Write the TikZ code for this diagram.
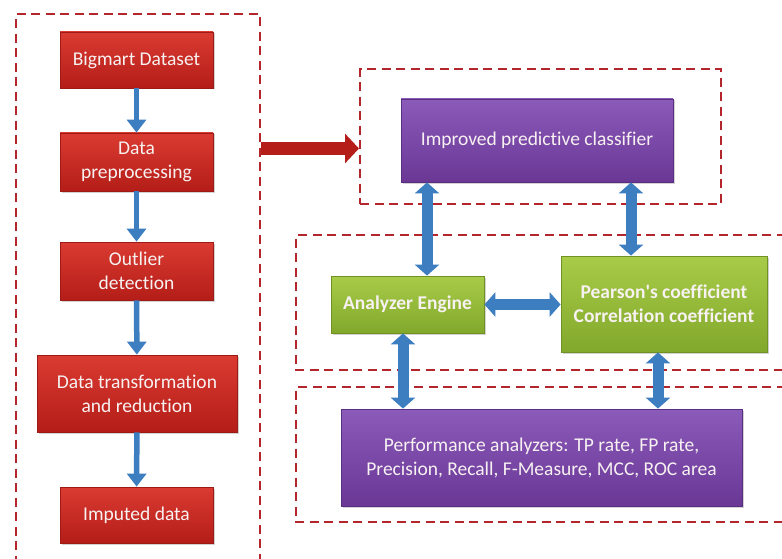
\documentclass[tikz,border=0pt]{standalone}
\usepackage{fontspec}
\setmainfont[Ligatures={NoCommon}]{Carlito}
\usetikzlibrary{arrows.meta,shadows,calc}
\definecolor{redA}{HTML}{DA3B31}
\definecolor{redB}{HTML}{B41D18}
\definecolor{redE}{HTML}{9E1A16}
\definecolor{purA}{HTML}{8B5BBA}
\definecolor{purB}{HTML}{6A3795}
\definecolor{purE}{HTML}{5C2E83}
\definecolor{grnA}{HTML}{A8CC48}
\definecolor{grnB}{HTML}{82A82C}
\definecolor{grnE}{HTML}{6F9222}
\definecolor{arrblue}{HTML}{3D7EC1}
\definecolor{dashred}{HTML}{B3262B}
\definecolor{txtw}{HTML}{F7F1F1}
\tikzset{
  box/.style={rectangle, draw, line width=0.8pt, align=center, text=txtw,
    font=\fontsize{19.5}{24}\selectfont, inner sep=2pt,
    drop shadow={opacity=0.35, shadow xshift=1.5pt, shadow yshift=-1.5pt}},
  redbox/.style={box, draw=redE, top color=redA, bottom color=redB},
  purbox/.style={box, draw=purE, top color=purA, bottom color=purB},
  grnbox/.style={box, draw=grnE, top color=grnA, bottom color=grnB, font=\fontsize{19.5}{24}\selectfont\bfseries},
  grpbox/.style={draw=dashred, line width=2.4pt, dash pattern=on 9pt off 5.5pt},
  downarrow/.style={draw=arrblue, line width=5.5pt, -{Triangle[width=19pt,length=13pt]}},
  dblarrow/.style={draw=arrblue, line width=11pt, {Triangle[width=24pt,length=11pt]}-{Triangle[width=24pt,length=11pt]}},
  bigarrow/.style={draw=redB, line width=13pt, -{Triangle[width=29pt,length=14pt]}},
}
\begin{document}
\begin{tikzpicture}[x=1pt,y=-1pt]
\useasboundingbox[fill=white] (0,0) rectangle (782,559);

% group containers
\node[grpbox, rectangle, minimum width=244pt, minimum height=580pt, anchor=north west] (lgrp) at (15,13) {};
\node[grpbox, rectangle, minimum width=361pt, minimum height=135pt, anchor=north west] (cgrp) at (359,68) {};
\draw[grpbox] (800,235) -- (296,235) -- (296,370) -- (800,370);
\draw[grpbox] (800,387) -- (296,387) -- (296,522) -- (800,522);

% left pipeline
\node[redbox, minimum width=153pt, minimum height=56pt] (b1) at (136.5,60) {Bigmart Dataset};
\node[redbox, minimum width=153pt, minimum height=58pt] (b2) at (136.5,162) {Data\\preprocessing};
\node[redbox, minimum width=153pt, minimum height=58pt] (b3) at (136.5,271) {Outlier\\detection};
\node[redbox, minimum width=200pt, minimum height=77pt] (b4) at (137,393.5) {Data transformation\\and reduction};
\node[redbox, minimum width=153pt, minimum height=56pt] (b5) at (136.5,515) {Imputed data};

\draw[downarrow] (b1) -- (b2);
\draw[downarrow] (b2) -- (b3);
\draw[downarrow] (b3) -- (b4);
\draw[downarrow] (b4) -- (b5);

% right side
\node[purbox, minimum width=272pt, minimum height=83pt] (cls) at (537,140.5) {Improved predictive classifier};
\node[grnbox, minimum width=153pt, minimum height=57pt] (ae) at (407.5,304.5) {Analyzer Engine};
\node[grnbox, minimum width=206pt, minimum height=96pt] (pc) at (664,304) {Pearson\textquotesingle s coefficient\\Correlation coefficient};
\node[purbox, minimum width=401pt, minimum height=97pt] (pa) at (541.5,457.5) {Performance analyzers: TP rate, FP rate,\\Precision, Recall, F-Measure, MCC, ROC area};

\coordinate (ra) at (0,148.5);
\draw[bigarrow] (lgrp.east |- ra) -- (cgrp.west |- ra);

\coordinate (x1) at (427,0);
\coordinate (x2) at (631,0);
\coordinate (x3) at (403,0);
\coordinate (x4) at (658,0);
\draw[dblarrow] (cls.south -| x1) -- (ae.north -| x1);
\draw[dblarrow] (cls.south -| x2) -- (pc.north -| x2);
\draw[dblarrow] (ae.east) -- (pc.west |- ae.east);
\draw[dblarrow] (ae.south -| x3) -- (pa.north -| x3);
\draw[dblarrow] (pc.south -| x4) -- (pa.north -| x4);
\end{tikzpicture}
\end{document}
